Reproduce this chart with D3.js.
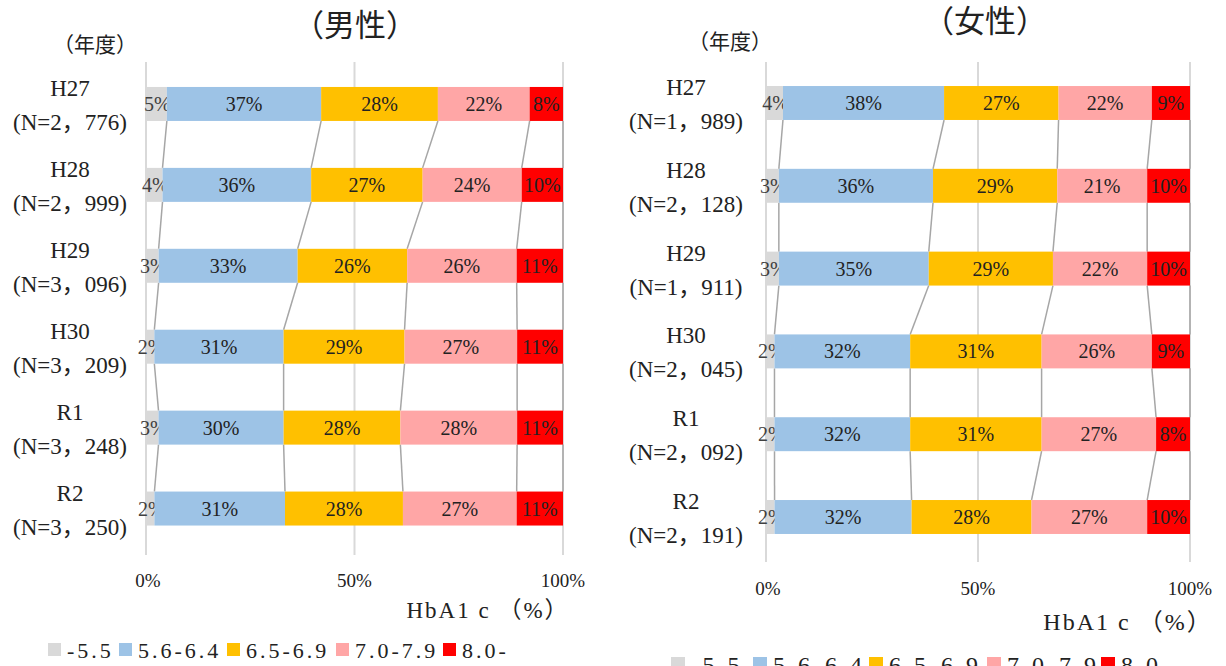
<!DOCTYPE html>
<html><head><meta charset="utf-8">
<script src="https://cdn.jsdelivr.net/npm/d3@7/dist/d3.min.js"></script>
<style>
body{margin:0;background:#fff;}
</style></head>
<body><svg id="c" width="1226" height="666"></svg>
<script>
const years = ["H27","H28","H29","H30","R1","R2"];
const categories = ["-5.5","5.6-6.4","6.5-6.9","7.0-7.9","8.0-"];
const colors = ["#d9d9d9","#9dc3e6","#ffc000","#ffa6a6","#ff0000"];
const maleN = ["2，776","2，999","3，096","3，209","3，248","3，250"];
const femaleN = ["1，989","2，128","1，911","2，045","2，092","2，191"];
const male = [
  [5,37,28,22,8],
  [4,36,27,24,10],
  [3,33,26,26,11],
  [2,31,29,27,11],
  [3,30,28,28,11],
  [2,31,28,27,11]
];
const female = [
  [4,38,27,22,9],
  [3,36,29,21,10],
  [3,35,29,22,10],
  [2,32,31,26,9],
  [2,32,31,27,8],
  [2,32,28,27,10]
];
const ticks = [0,0.5,1];
const tickLabels = ["0%","50%","100%"];
const FONT = "'Liberation Serif','DejaVu Serif','Times New Roman','Noto Sans CJK JP',serif";

const svg = d3.select("#c").attr("font-family",FONT);

function draw(cfg){
  const g = svg.append("g");
  const rows = cfg.data.map((v,i)=>{const o={year:years[i]};categories.forEach((c,j)=>o[c]=v[j]);return o;});
  const series = d3.stack().keys(categories).offset(d3.stackOffsetExpand)(rows);
  const x = d3.scaleLinear().domain([0,1]).range([cfg.x0,cfg.x1]);
  const y = d3.scaleBand().domain(years).range([cfg.y0,cfg.y1]).paddingInner(cfg.pi).paddingOuter(cfg.pi/2);
  g.selectAll("line.grid").data(ticks).join("line")
    .attr("x1",d=>x(d)).attr("x2",d=>x(d))
    .attr("y1",cfg.gTop).attr("y2",cfg.gBot)
    .attr("stroke","#d9d9d9").attr("stroke-width",2);
  series.forEach((s,si)=>{
    for(let i=0;i<years.length-1;i++){
      const a=s[i][1], b=s[i+1][1];
      g.append("line")
        .attr("x1",x(a)).attr("y1",y(years[i])+y.bandwidth())
        .attr("x2",x(b)).attr("y2",y(years[i+1]))
        .attr("stroke","#a6a6a6").attr("stroke-width",1.5);
    }
  });
  series.forEach((s,si)=>{
    g.selectAll(null).data(s).join("rect")
      .attr("x",d=>x(d[0])).attr("width",d=>x(d[1])-x(d[0]))
      .attr("y",d=>y(d.data.year)).attr("height",y.bandwidth())
      .attr("fill",colors[si]);
    g.selectAll(null).data(s).join("text")
      .attr("x",d=>(x(d[0])+x(d[1]))/2 + (si===0?1:0))
      .attr("y",d=>y(d.data.year)+y.bandwidth()/2+7)
      .attr("text-anchor","middle").attr("font-size",cfg.lblFs)
      .attr("fill",si===0?"#404040":"#222")
      .text(d=>d.data[categories[si]]+"%");
  });
  years.forEach((yr,i)=>{
    const cy = y(yr)+y.bandwidth()/2;
    g.append("text").attr("x",cfg.lx).attr("y",cy-8).attr("text-anchor","middle")
      .attr("font-size",cfg.yFs).attr("fill","#222").text(yr);
    g.append("text").attr("x",cfg.lx).attr("y",cy+26).attr("text-anchor","middle")
      .attr("font-size",cfg.yFs).attr("fill","#222").text("(N="+cfg.n[i]+")");
  });
  g.selectAll(null).data(ticks).join("text")
    .attr("x",d=>x(d)+ (d===0?2:0)).attr("y",cfg.tickY).attr("text-anchor","middle")
    .attr("font-size",cfg.tickFs).attr("fill","#222").text((d,i)=>tickLabels[i]);
  g.append("text").attr("x",cfg.axX).attr("y",cfg.axY).attr("text-anchor","middle")
    .attr("font-size",cfg.axFs).attr("fill","#222").attr("letter-spacing",2).text("HbA1 c （%）");
  g.append("text").attr("x",cfg.tx).attr("y",cfg.ty).attr("text-anchor","middle")
    .attr("font-size",31).attr("fill","#222").text(cfg.title);
  g.append("text").attr("x",cfg.nx).attr("y",cfg.ny).attr("text-anchor","middle")
    .attr("font-size",21).attr("fill","#222").text("（年度）");
  const lg = g.append("g").attr("transform",`translate(${cfg.legX},${cfg.legY})`);
  categories.forEach((c,i)=>{
    lg.append("rect").attr("x",cfg.legOff[i]).attr("y",-cfg.sq-2).attr("width",cfg.sq).attr("height",cfg.sq).attr("fill",colors[i]);
    lg.append("text").attr("x",cfg.legOff[i]+cfg.sq+6).attr("y",0).attr("font-size",cfg.legFs)
      .attr("letter-spacing",cfg.legLs).attr("fill","#222").text(c);
  });
}

draw({data:male,n:maleN,title:"（男性）",x0:146,x1:563,y0:63.5,y1:549,pi:0.58,gTop:62,gBot:555,lx:70,
  lblFs:20,yFs:23,tickFs:19,axFs:23,axX:488,
  tickY:587,axY:618,tx:355,ty:36,nx:95,ny:52,legX:48,legY:658,legOff:[0,71,179,288,395],sq:13,legFs:22,legLs:3});
draw({data:female,n:femaleN,title:"（女性）",x0:766,x1:1190,y0:61.6,y1:558.4,pi:0.59,gTop:62,gBot:562,lx:686,
  lblFs:20,yFs:23,tickFs:19,axFs:24,axX:1128,
  tickY:595,axY:630,tx:985,ty:32,nx:730,ny:49,legX:671,legY:673,legOff:[0,82,198,316,430],sq:14,legFs:24,legLs:3.5});
</script></body></html>
